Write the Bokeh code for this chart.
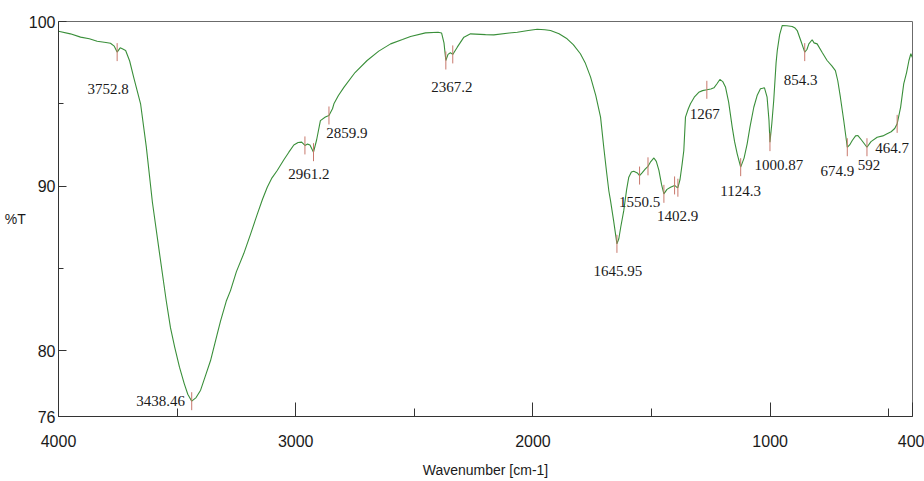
import numpy as np
from bokeh.plotting import figure
from bokeh.models import ColumnDataSource, Range1d, FixedTicker, Label
from bokeh.core.properties import value
from bokeh.embed import file_html
from bokeh.resources import INLINE

# ---- spectrum data (wavenumber, %T) ----
wavenumber = [4000, 3950, 3907, 3870, 3837, 3800, 3781, 3765, 3752.8, 3740, 3731, 3717,
              3700, 3683, 3654, 3630, 3604, 3575, 3546, 3528, 3510, 3490, 3470, 3455, 3438.46,
              3420, 3401, 3380, 3359, 3331, 3317, 3293, 3275, 3250, 3219, 3190, 3162,
              3140, 3120, 3100, 3078, 3050, 3029, 3008, 2990, 2975, 2961.2, 2950, 2940,
              2925, 2912, 2896, 2875, 2859.9, 2845, 2839, 2820, 2797, 2750, 2699, 2650,
              2600, 2550, 2516, 2453, 2400, 2385, 2375, 2367.2, 2358, 2348, 2338, 2319,
              2291, 2263, 2200, 2165, 2100, 2066, 2020, 1982, 1950, 1926, 1890, 1856,
              1830, 1800, 1780, 1757, 1735, 1715, 1701, 1690, 1680, 1673, 1660, 1650,
              1645.95, 1638, 1630, 1617, 1605, 1596, 1585, 1575, 1560, 1550.5, 1540, 1526,
              1515, 1505, 1490, 1480, 1469, 1458, 1448, 1435, 1420, 1402.9, 1395, 1389,
              1380, 1371, 1364, 1357, 1345, 1336, 1320, 1301, 1285, 1267, 1250, 1237,
              1225, 1212, 1200, 1188, 1175, 1160, 1150, 1139, 1124.3, 1110, 1097, 1085,
              1069, 1055, 1041, 1024, 1013, 1005, 1000.87, 993, 985, 975, 970, 960,
              949, 930, 907, 895, 886, 870, 854.3, 845, 837, 823, 815, 802,
              780, 760, 740, 725, 715, 704, 690, 674.9, 665, 654, 640, 630,
              615, 592, 575, 549, 525, 507, 490, 475, 464.7, 450, 437, 425,
              415, 407, 401]
transmittance = [99.41, 99.25, 99.05, 98.95, 98.80, 98.72, 98.68, 98.50, 98.14, 98.40, 98.34, 98.24,
                 97.6, 96.6, 95.0, 92.4, 89.0, 86.0, 83.05, 81.4, 80.2, 79.0, 78.0, 77.35, 76.93,
                 77.15, 77.6, 78.5, 79.4, 81.0, 81.8, 83.0, 83.65, 84.8, 85.9, 87.1, 88.3,
                 89.2, 89.93, 90.5, 90.95, 91.6, 92.06, 92.5, 92.65, 92.67, 92.47, 92.55, 92.5,
                 92.06, 92.8, 93.98, 94.2, 94.29, 94.7, 95.0, 95.5, 96.0, 96.9, 97.63, 98.2,
                 98.64, 98.9, 99.09, 99.31, 99.35, 99.3, 98.7, 97.63, 98.0, 98.1, 98.0, 98.44,
                 99.05, 99.25, 99.2, 99.19, 99.3, 99.35, 99.45, 99.53, 99.5, 99.45, 99.25, 98.95,
                 98.6, 98.04, 97.5, 96.62, 95.5, 94.19, 92.3, 90.9, 89.7, 89.12, 87.9, 86.9,
                 86.49, 86.8, 87.5, 88.52, 89.8, 90.54, 90.85, 90.9, 90.8, 90.64, 90.8, 91.05,
                 91.2, 91.45, 91.71, 91.5, 90.95, 90.1, 89.53, 89.8, 89.93, 90.04, 89.95, 89.9,
                 90.4, 91.35, 92.16, 94.19, 94.7, 95.0, 95.4, 95.7, 95.8, 95.85, 95.9, 95.97,
                 96.2, 96.48, 96.35, 96.0, 95.1, 93.58, 92.7, 91.96, 91.15, 91.7, 92.57, 93.6,
                 94.79, 95.5, 95.91, 95.97, 95.4, 94.0, 92.67, 93.8, 95.2, 97.5, 98.24, 99.2,
                 99.76, 99.74, 99.7, 99.6, 99.45, 98.8, 98.14, 98.3, 98.64, 98.89, 98.7, 98.64,
                 98.1, 97.63, 97.3, 97.02, 96.4, 95.4, 94.0, 92.36, 92.5, 92.77, 93.05, 93.07,
                 92.8, 92.36, 92.7, 92.97, 93.05, 93.18, 93.3, 93.5, 93.78, 94.8, 96.21, 96.9,
                 97.63, 98.04, 97.83]

# ---- labelled peaks ----
peak_wn = [3752.8, 3438.46, 2961.2, 2859.9, 2367.2, 1645.95, 1550.5, 1402.9,
           1267, 1124.3, 1000.87, 854.3, 674.9, 592, 464.7]
peak_T = [98.14, 76.93, 92.47, 94.29, 97.63, 86.49, 90.64, 90.04,
          95.85, 91.15, 92.67, 98.14, 92.36, 92.36, 93.78]
peak_labels = ["3752.8", "3438.46", "2961.2", "2859.9", "2367.2", "1645.95", "1550.5", "1402.9",
               "1267", "1124.3", "1000.87", "854.3", "674.9", "592", "464.7"]
# unlabelled picked peaks
extra_wn = [2925, 2338, 1515, 1448, 1389]
extra_T = [92.06, 98.0, 91.2, 89.53, 89.9]

# label placement (screen px offsets from the peak mark)
label_dx = [-9, -31, 4, 18, 6, 1, 0, 3, -2, 0, 9, -4, -10, 2, -5]
label_dy = [37, 0, 29, 18, 26, 27, 26, 31, 24, 24, 23, 28, 24, 18, 24]

# ---- tick values ----
x_major = [4000, 3000, 2000, 1000, 400]
x_minor = [3500, 2500, 1500, 500]
y_major = [76, 80, 90, 100]
y_minor = [85, 95]

AXFONT = "Liberation Sans"

p = figure(width=924, height=481, output_backend="svg", toolbar_location=None,
           x_range=Range1d(4000, 400), y_range=Range1d(76, 100),
           min_border_left=58, min_border_right=12, min_border_top=21, min_border_bottom=65)
p.background_fill_color = "white"
p.border_fill_color = "white"
p.outline_line_color = "#6b6b6b"
p.outline_line_width = 1
p.xgrid.visible = False
p.ygrid.visible = False

for ax in (p.xaxis[0], p.yaxis[0]):
    ax.axis_line_color = "#333333"
    ax.major_tick_line_color = "#333333"
    ax.minor_tick_line_color = "#333333"
    ax.major_tick_out = 0
    ax.minor_tick_out = 0
    ax.major_label_text_font = AXFONT
    ax.major_label_text_font_size = "16px"
    ax.major_label_text_color = "#1a1a1a"
    ax.axis_label_text_font = AXFONT
    ax.axis_label_text_font_size = "14px"
    ax.axis_label_text_font_style = "normal"
    ax.axis_label_text_color = "#1a1a1a"

p.xaxis.ticker = FixedTicker(ticks=x_major, minor_ticks=x_minor)
p.xaxis.major_tick_in = 14
p.xaxis.minor_tick_in = 8
p.xaxis.major_label_standoff = 18
p.xaxis.axis_label = "Wavenumber [cm-1]"
p.xaxis.axis_label_standoff = 12

p.yaxis.ticker = FixedTicker(ticks=y_major, minor_ticks=y_minor)
p.yaxis.major_tick_in = 8
p.yaxis.minor_tick_in = 5
p.yaxis.major_label_standoff = 3

yax = p.yaxis[0]
if "axis_label_orientation" in yax.properties():
    yax.axis_label = "%T"
    yax.axis_label_orientation = "horizontal"
    yax.axis_label_standoff = 0
else:
    p.add_layout(Label(x=-40, y=184, x_units="screen", y_units="screen", text="%T",
                       text_font=AXFONT, text_font_size="14px", text_align="center",
                       text_baseline="middle", text_color="#1a1a1a"))

# spectrum
p.line(wavenumber, transmittance, line_color="#3a8f3a", line_width=1.1)

# peak marks
mark_src = ColumnDataSource(dict(x=peak_wn + extra_wn, y=peak_T + extra_T))
p.scatter("x", "y", source=mark_src, marker="dash", angle=np.pi / 2, size=18,
          line_color="#c8786c", line_width=1)

lab_src = ColumnDataSource(dict(x=peak_wn, y=peak_T, text=peak_labels, dx=label_dx, dy=label_dy))
p.text("x", "y", text="text", x_offset="dx", y_offset="dy", source=lab_src,
       text_font=value("Liberation Serif"), text_font_size="15px",
       text_align="center", text_baseline="middle", text_color="#1a1a1a")

open("out.html", "w").write(file_html(p, INLINE))
